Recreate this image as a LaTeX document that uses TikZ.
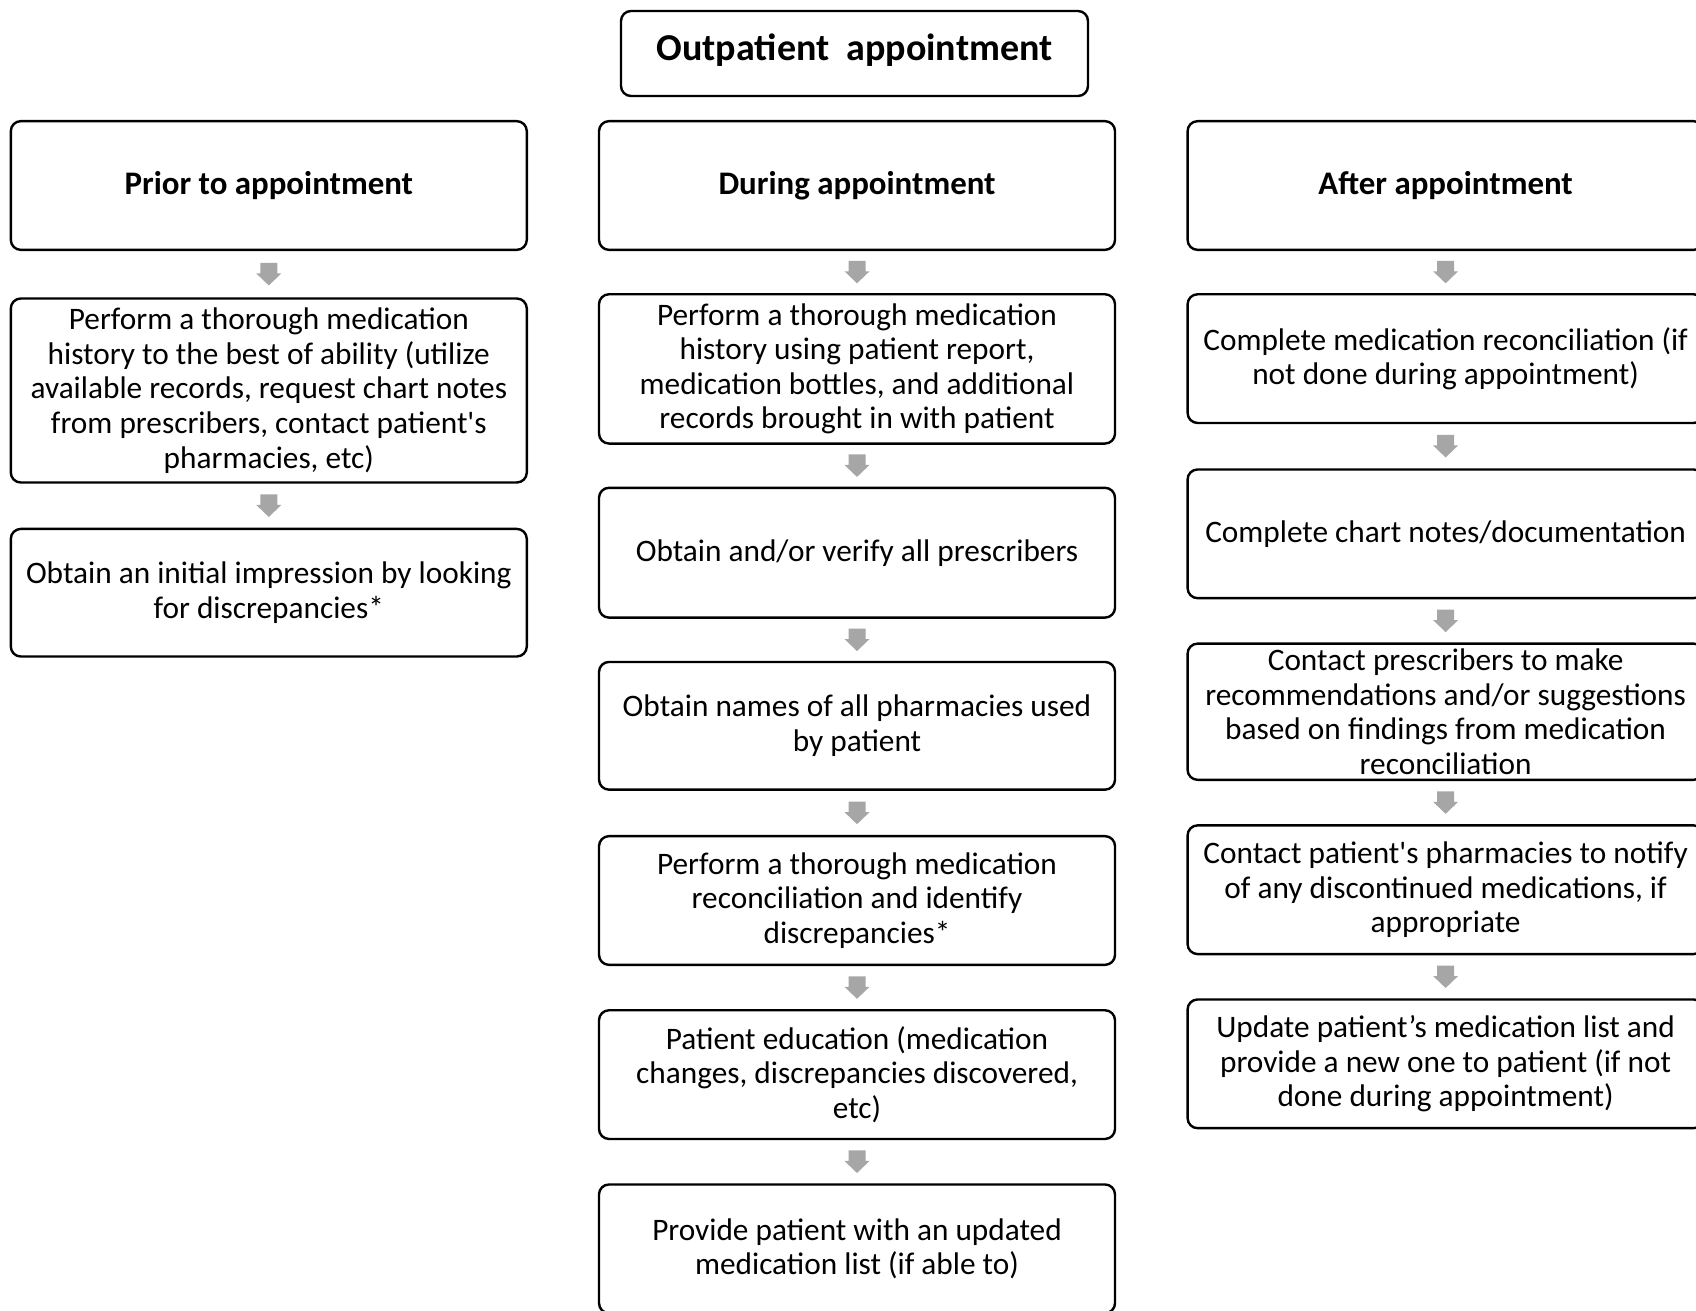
\documentclass[tikz,border=0pt]{standalone}
\usepackage{fontspec}
\setmainfont{Carlito}
\usetikzlibrary{calc}
\definecolor{arrowgray}{HTML}{A6A6A6}
\newcommand\garr[2]{%
  \fill[arrowgray] let \p3=($(#1.south)!0.5!(#2.north)$) in
   (\x3-8.5pt,\y3+11.25pt) -- (\x3+8.5pt,\y3+11.25pt) -- (\x3+8.5pt,\y3+0.75pt)
   -- (\x3+12.5pt,\y3+0.75pt) -- (\x3,\y3-11.25pt) -- (\x3-12.5pt,\y3+0.75pt)
   -- (\x3-8.5pt,\y3+0.75pt) -- cycle;}
\tikzset{
  box/.style={draw=black, line width=2.4pt, rounded corners=10pt, fill=white,
    minimum width=516pt, minimum height=128.7pt, align=center, inner sep=0pt,
    font=\fontsize{31.3}{34.6}\selectfont},
  headbox/.style={box, font=\fontsize{32.9}{38}\selectfont\bfseries},
  titlebox/.style={box, minimum width=467pt, minimum height=85pt,
    font=\fontsize{38}{44}\selectfont\bfseries}
}
\begin{document}
\begin{tikzpicture}[x=1pt,y=-1pt]
\useasboundingbox (0,0) rectangle (1696,1310);
\clip (0,0) rectangle (1696,1310);
\fill[white] (0,0) rectangle (1696,1310);
% title
\node[titlebox] (T) at (854.5,53.5) {\raisebox{3.5pt}[\height][\depth]{Outpatient\ \ appointment}};
% left column
\node[headbox] (L1) at (268.8,185.5) {Prior to appointment};
\node[box, minimum height=184pt] (L2) at (268.8,390.5) {Perform a thorough medication\\history to the best of ability (utilize\\available records, request chart notes\\from prescribers, contact patient\textquotesingle s\\pharmacies, etc)};
\node[box, minimum height=127.6pt] (L3) at (268.8,592.7) {Obtain an initial impression by looking\\for discrepancies*};
% middle column
\node[headbox] (M1) at (857,185.5) {During appointment};
\node[box, minimum height=149.3pt] (M2) at (857,368.9) {Perform a thorough medication\\history using patient report,\\medication bottles, and additional\\records brought in with patient};
\node[box, minimum height=129.8pt] (M3) at (857,552.7) {Obtain and/or verify all prescribers};
\node[box, minimum height=127.7pt] (M4) at (857,725.8) {Obtain names of all pharmacies used\\by patient};
\node[box] (M5) at (857,900.5) {Perform a thorough medication\\reconciliation and identify\\discrepancies*};
\node[box] (M6) at (857,1074.6) {Patient education (medication\\changes, discrepancies discovered,\\etc)};
\node[box] (M7) at (857,1248.8) {Provide patient with an updated\\medication list (if able to)};
% right column
\node[headbox] (R1) at (1445.6,185.5) {After appointment};
\node[box] (R2) at (1445.6,358.6) {Complete medication reconciliation (if\\not done during appointment)};
\node[box] (R3) at (1445.6,533.8) {Complete chart notes/documentation};
\node[box, minimum height=136.2pt] (R4) at (1445.6,711.7) {Contact prescribers to make\\recommendations and/or suggestions\\based on findings from medication\\reconciliation};
\node[box] (R5) at (1445.6,889.7) {Contact patient\textquotesingle s pharmacies to notify\\of any discontinued medications, if\\appropriate};
\node[box] (R6) at (1445.6,1063.8) {Update patient’s medication list and\\provide a new one to patient (if not\\done during appointment)};
% arrows
\garr{L1}{L2}
\garr{L2}{L3}
\garr{M1}{M2}
\garr{M2}{M3}
\garr{M3}{M4}
\garr{M4}{M5}
\garr{M5}{M6}
\garr{M6}{M7}
\garr{R1}{R2}
\garr{R2}{R3}
\garr{R3}{R4}
\garr{R4}{R5}
\garr{R5}{R6}
\end{tikzpicture}
\end{document}
